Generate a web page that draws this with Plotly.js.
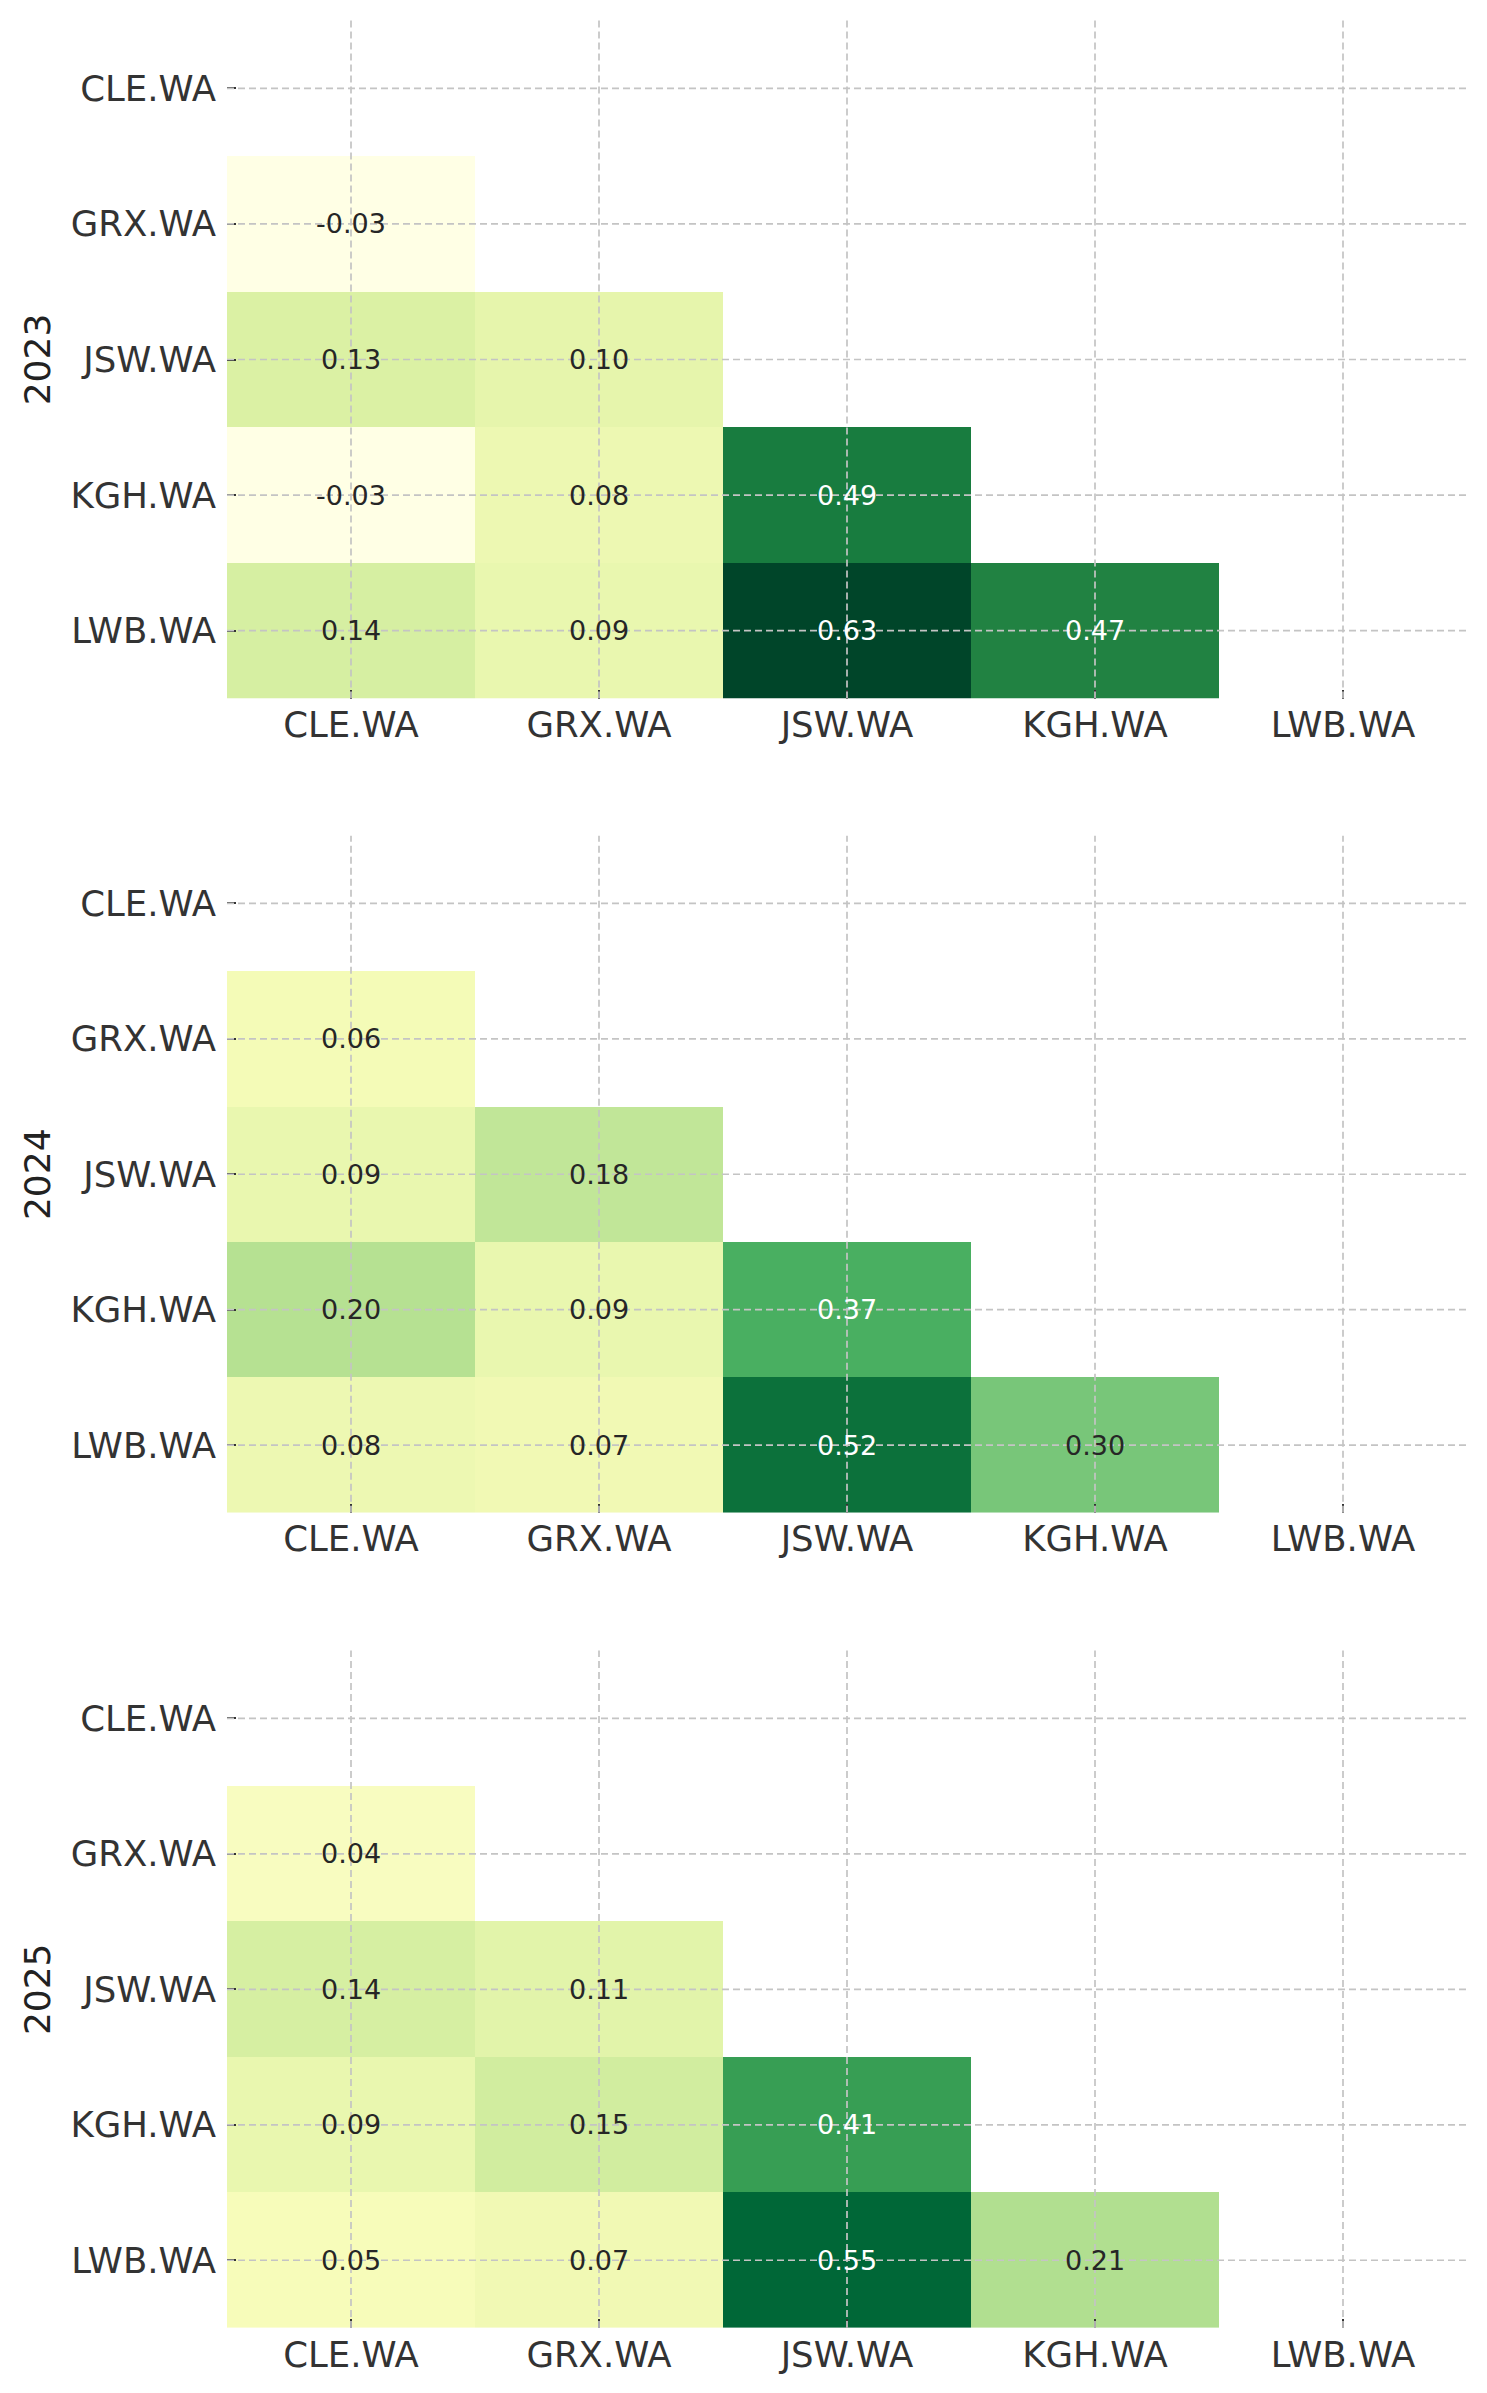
<!DOCTYPE html>
<html>
<head>
<meta charset="utf-8">
<script src="https://cdn.plot.ly/plotly-3.0.1.min.js"></script>
<style>html,body{margin:0;padding:0;background:#fff;}#chart{width:1487px;height:2393px;}</style>
</head>
<body>
<div id="chart"></div>
<script>
const tickers = ['CLE.WA', 'GRX.WA', 'JSW.WA', 'KGH.WA', 'LWB.WA'];
const years = ['2023', '2024', '2025'];

// lower-triangle correlations (row = y ticker, col = x ticker); null = masked
const corr2023 = [
  [null, null, null, null, null],
  [-0.03, null, null, null, null],
  [0.13, 0.10, null, null, null],
  [-0.03, 0.08, 0.49, null, null],
  [0.14, 0.09, 0.63, 0.47, null]
];
const corr2024 = [
  [null, null, null, null, null],
  [0.06, null, null, null, null],
  [0.09, 0.18, null, null, null],
  [0.20, 0.09, 0.37, null, null],
  [0.08, 0.07, 0.52, 0.30, null]
];
const corr2025 = [
  [null, null, null, null, null],
  [0.04, null, null, null, null],
  [0.14, 0.11, null, null, null],
  [0.09, 0.15, 0.41, null, null],
  [0.05, 0.07, 0.55, 0.21, null]
];
const matrices = [corr2023, corr2024, corr2025];

const ylgn = [
  [0.0, '#ffffe5'], [0.125, '#f7fcb9'], [0.25, '#d9f0a3'], [0.375, '#addd8e'],
  [0.5, '#78c679'], [0.625, '#41ab5d'], [0.75, '#238443'], [0.875, '#006837'], [1.0, '#004529']
];

const allVals = matrices.flat(2).filter(v => v !== null);
const zmin = Math.min(...allVals), zmax = Math.max(...allVals);

const W = 1487, H = 2393;
const xDom = [227 / W, 1467 / W];
const yDoms = [
  [1 - 698.5 / H, 1 - 20.5 / H],
  [1 - 1512.8 / H, 1 - 835.7 / H],
  [1 - 2328 / H, 1 - 1650.6 / H]
];

const traces = [], annotations = [], shapes = [];
const layout = {
  width: W, height: H,
  margin: {l: 0, r: 0, t: 0, b: 0},
  paper_bgcolor: '#ffffff', plot_bgcolor: '#ffffff',
  font: {family: 'DejaVu Sans', color: '#333333'},
  showlegend: false
};

const gridStyle = {color: '#c4c4c4', width: 1.7, dash: '7px,4px'};

matrices.forEach((m, k) => {
  const sfx = k === 0 ? '' : String(k + 1);
  const xa = 'x' + sfx, ya = 'y' + sfx;
  traces.push({
    type: 'heatmap', x: tickers, y: tickers, z: m,
    xaxis: xa, yaxis: ya,
    colorscale: ylgn, zmin: zmin, zmax: zmax,
    showscale: false, hoverongaps: false
  });
  layout['xaxis' + sfx] = {
    domain: xDom, anchor: ya, type: 'category',
    showgrid: false, zeroline: false, showline: false,
    ticks: 'inside', ticklen: 9, tickwidth: 2, tickcolor: '#333333',
    tickfont: {size: 35.5, color: '#333333', family: 'DejaVu Sans'},
    ticklabelstandoff: 2,
    fixedrange: true
  };
  layout['yaxis' + sfx] = {
    domain: yDoms[k], anchor: xa, type: 'category', autorange: 'reversed',
    showgrid: false, zeroline: false, showline: false,
    ticks: 'inside', ticklen: 9, tickwidth: 2, tickcolor: '#333333',
    tickfont: {size: 35.5, color: '#333333', family: 'DejaVu Sans'},
    ticklabelstandoff: 10,
    title: {text: years[k], font: {size: 36, color: '#222222', family: 'DejaVu Sans'}, standoff: 8},
    fixedrange: true
  };
  tickers.forEach((t, i) => {
    shapes.push({type: 'line', layer: 'above', xref: xa, yref: ya + ' domain',
      x0: i, x1: i, y0: 0, y1: 1, line: gridStyle});
    shapes.push({type: 'line', layer: 'above', xref: xa + ' domain', yref: ya,
      x0: 0, x1: 1, y0: i, y1: i, line: gridStyle});
  });
  m.forEach((row, r) => {
    row.forEach((v, c) => {
      if (v === null) return;
      annotations.push({
        xref: xa, yref: ya, x: tickers[c], y: tickers[r],
        text: v.toFixed(2), showarrow: false,
        font: {size: 27, family: 'DejaVu Sans', color: v > 0.34 ? '#ffffff' : '#262626'}
      });
    });
  });
});

layout.shapes = shapes;
layout.annotations = annotations;

Plotly.newPlot('chart', traces, layout, {displayModeBar: false, staticPlot: true});
</script>
</body>
</html>
